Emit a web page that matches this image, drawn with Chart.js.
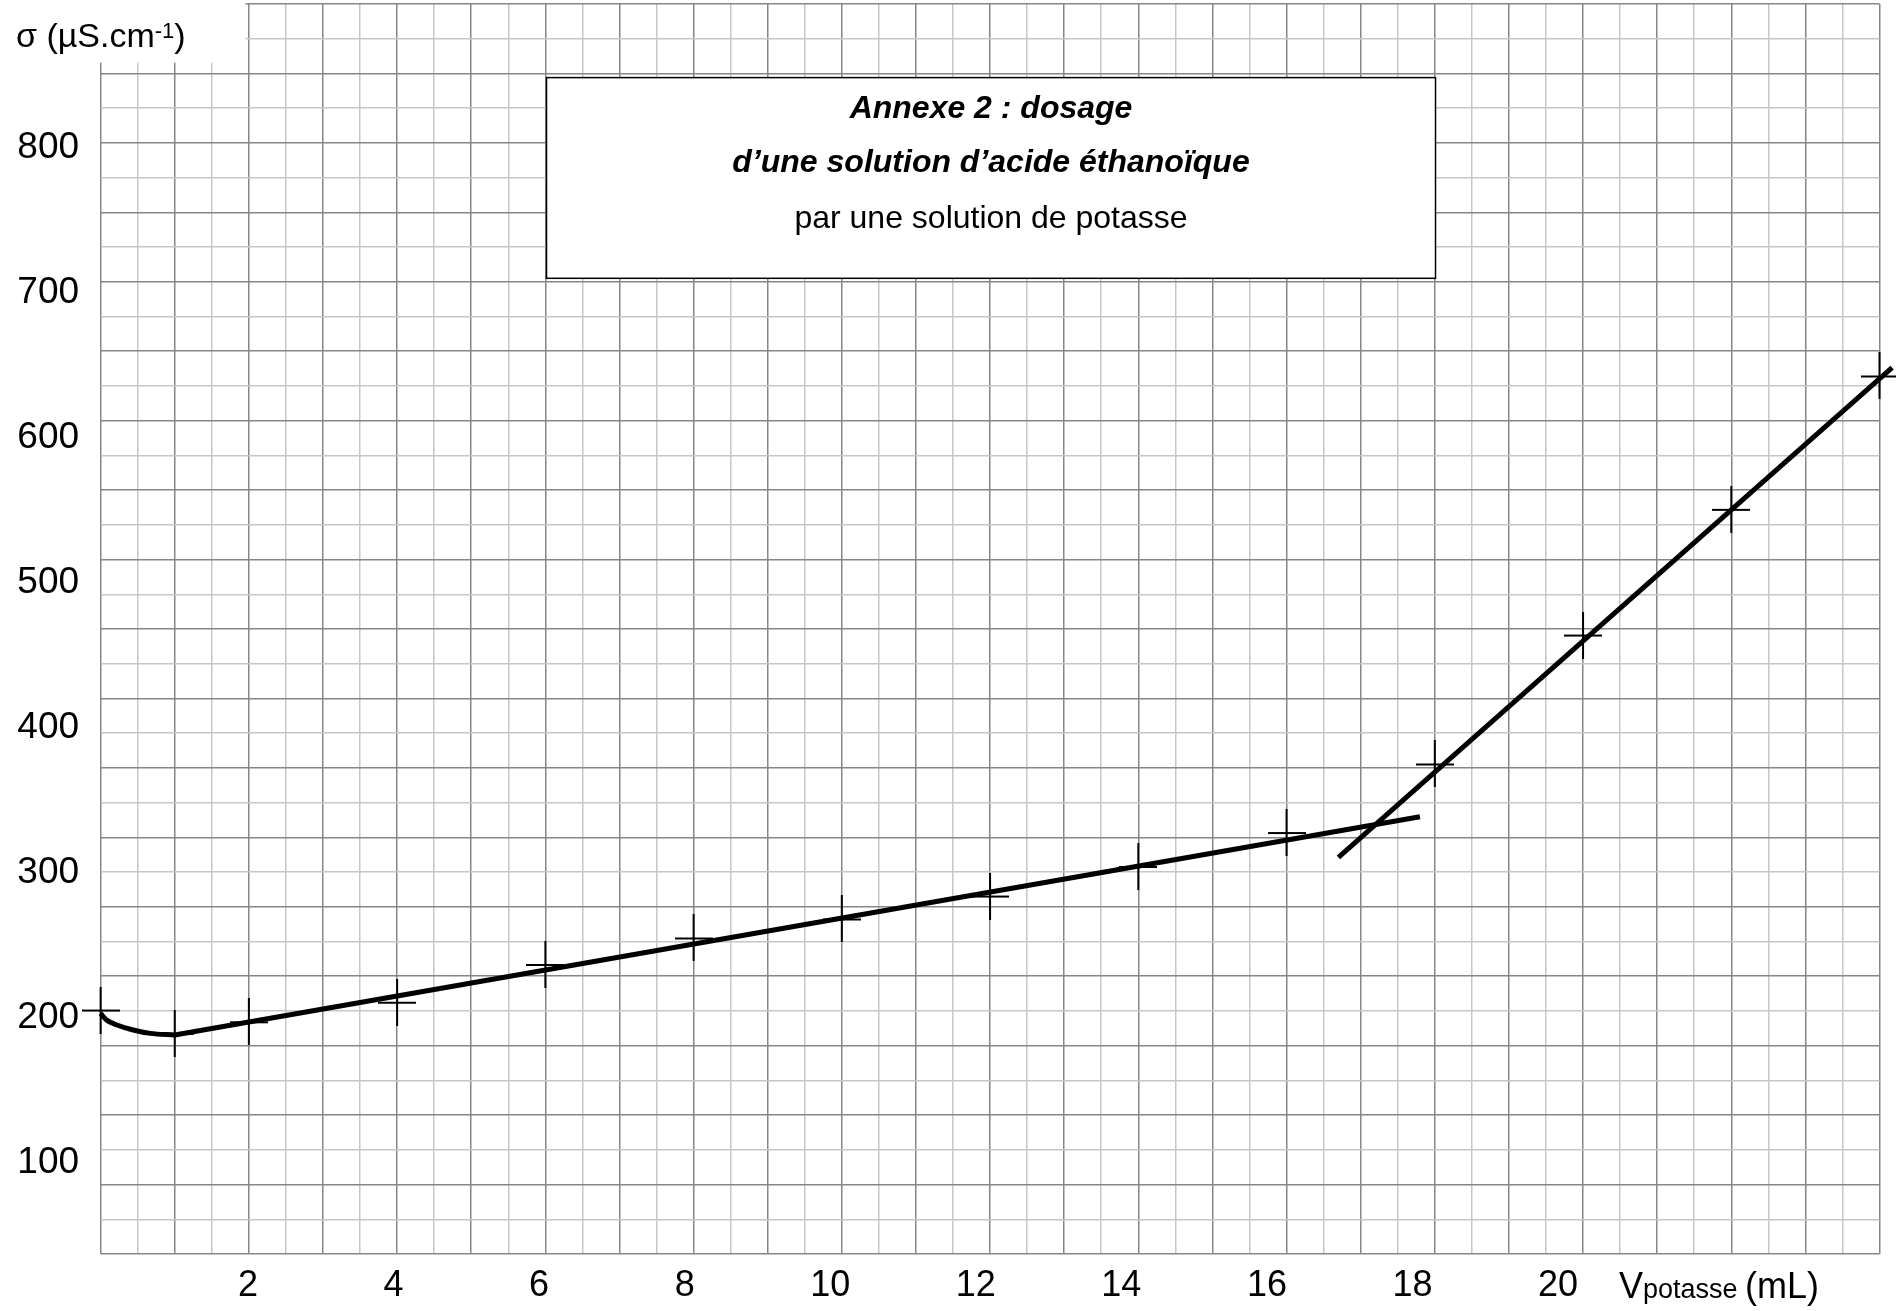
<!DOCTYPE html>
<html>
<head>
<meta charset="utf-8">
<title>Annexe 2 : dosage</title>
<script src="https://cdn.jsdelivr.net/npm/chart.js@4.4.1/dist/chart.umd.min.js"></script>
<style>
  html, body { margin: 0; padding: 0; background: #fff; }
  #wrap { width: 1896px; height: 1311px; }
</style>
</head>
<body>
<div id="wrap"><canvas id="chart" width="1896" height="1311"></canvas></div>
<script>
// mesures : volume de potasse versé (mL) et conductivité (µS.cm-1)
const volumes = [0, 1, 2, 4, 6, 8, 10, 12, 14, 16, 18, 20, 22, 24];
const sigmas = [205.5, 189.4, 197.4, 210.9, 236.9, 255.2, 268.3, 284.1, 304.5, 327.9, 375.2, 464.1, 550.8, 642.8];

// début de courbe tracé à la main
const curveV = [0, 0.08, 0.22, 0.44, 0.67, 1];
const curveS = [203.2, 198.6, 195.2, 191.7, 189.4, 188.3];

// les deux droites
const line1V = [1, 17.8];
const line1S = [188.3, 338.8];
const line2V = [16.7, 24.17];
const line2S = [310.8, 648.5];

const xTicks = [2, 4, 6, 8, 10, 12, 14, 16, 18, 20];
const yTicks = [100, 200, 300, 400, 500, 600, 700, 800];

const titleLines = ['Annexe 2 : dosage', 'd’une solution d’acide éthanoïque', 'par une solution de potasse'];

// papier millimétré : 0,5 mL en x, 36 carreaux en y
const gridX = Array.from({ length: 49 }, (_, i) => i / 2);
const gridY = Array.from({ length: 37 }, (_, i) => i);

const FONT = '"Liberation Sans", Arial, sans-serif';
const DARK = '#868686';
const LIGHT = '#c6c6c6';

const toPts = (xs, ys) => xs.map((x, i) => ({ x: x, y: ys[i] }));

// pas de marge automatique autour des axes
const fixSize = (w, h) => s => {
    if (w !== null) s.width = w;
    if (h !== null) s.height = h;
    s.paddingTop = 0; s.paddingBottom = 0;
    s.paddingLeft = 0; s.paddingRight = 0;
};

// croix de mesure (un peu plus haute que large)
const cross = document.createElement('canvas');
cross.width = 38;
cross.height = 47;
(function() {
    const c = cross.getContext('2d');
    c.strokeStyle = '#000';
    c.lineWidth = 2;
    c.beginPath();
    c.moveTo(0, 24); c.lineTo(38, 24);
    c.moveTo(19, 0); c.lineTo(19, 47);
    c.stroke();
})();

const paper = {
    id: 'paper',
    beforeDatasetsDraw(chart) {
        const { ctx } = chart;
        const x = chart.scales.x, y2 = chart.scales.y2;
        ctx.save();
        // coin en haut à gauche sans quadrillage
        ctx.fillStyle = '#fff';
        const left = x.getPixelForValue(0) - 3;
        ctx.fillRect(left, 0, x.getPixelForValue(1.955) - left, y2.getPixelForValue(34.31));

        // cadre du titre
        const bx0 = x.getPixelForValue(6.016), bx1 = x.getPixelForValue(18.01);
        const by0 = y2.getPixelForValue(33.88), by1 = y2.getPixelForValue(28.1);
        ctx.fillRect(bx0, by0, bx1 - bx0, by1 - by0);
        ctx.strokeStyle = '#000';
        ctx.lineWidth = 1.5;
        ctx.strokeRect(bx0, by0, bx1 - bx0, by1 - by0);

        ctx.fillStyle = '#000';
        ctx.textAlign = 'center';
        ctx.textBaseline = 'alphabetic';
        const cx = (bx0 + bx1) / 2;
        ctx.font = 'italic bold 32px ' + FONT;
        ctx.fillText(titleLines[0], cx, by0 + 40);
        ctx.fillText(titleLines[1], cx, by0 + 94);
        ctx.font = '32px ' + FONT;
        ctx.fillText(titleLines[2], cx, by0 + 150.6);
        ctx.restore();
    },
    afterDraw(chart) {
        const { ctx } = chart;
        ctx.save();
        ctx.fillStyle = '#000';
        ctx.textAlign = 'left';
        ctx.textBaseline = 'alphabetic';

        // titre de l'axe vertical
        let px = 16;
        ctx.font = '34px ' + FONT;
        ctx.fillText('σ (µS.cm', px, 46.5);
        px += ctx.measureText('σ (µS.cm').width;
        ctx.font = '22px ' + FONT;
        ctx.fillText('-1', px, 37.5);
        px += ctx.measureText('-1').width;
        ctx.font = '34px ' + FONT;
        ctx.fillText(')', px, 46.5);

        // titre de l'axe horizontal
        px = 1619;
        ctx.font = '36px ' + FONT;
        ctx.fillText('V', px, 1298.3);
        px += ctx.measureText('V').width;
        ctx.font = '27px ' + FONT;
        ctx.fillText('potasse ', px, 1298.3);
        px += ctx.measureText('potasse ').width;
        ctx.font = '36px ' + FONT;
        ctx.fillText('(mL)', px, 1298.3);
        ctx.restore();
    }
};

Chart.defaults.font.family = FONT;
Chart.defaults.color = '#000';

new Chart(document.getElementById('chart'), {
    type: 'scatter',
    data: {
        datasets: [
            {
                label: 'mesures',
                data: toPts(volumes, sigmas),
                pointStyle: cross,
                pointRadius: 20,
                pointHoverRadius: 20,
                showLine: false,
                clip: false
            },
            {
                label: 'courbe',
                data: toPts(curveV, curveS),
                showLine: true,
                borderColor: '#000',
                borderWidth: 5,
                pointRadius: 0,
                pointHoverRadius: 0,
                cubicInterpolationMode: 'monotone',
                clip: false
            },
            {
                label: 'droite 1',
                data: toPts(line1V, line1S),
                showLine: true,
                borderColor: '#000',
                borderWidth: 5,
                pointRadius: 0,
                pointHoverRadius: 0,
                clip: false
            },
            {
                label: 'droite 2',
                data: toPts(line2V, line2S),
                showLine: true,
                borderColor: '#000',
                borderWidth: 5,
                pointRadius: 0,
                pointHoverRadius: 0,
                clip: false
            }
        ]
    },
    options: {
        responsive: false,
        animation: false,
        devicePixelRatio: 1,
        events: [],
        layout: { autoPadding: false, padding: { top: 4, right: 16.5, left: 0, bottom: 0 } },
        plugins: { legend: { display: false }, tooltip: { enabled: false } },
        scales: {
            x: {
                type: 'linear', position: 'bottom', min: 0, max: 24,
                afterBuildTicks: s => { s.ticks = gridX.map(v => ({ value: v })); },
                ticks: { display: false },
                grid: { color: c => Number.isInteger(c.tick.value) ? DARK : LIGHT, lineWidth: 1.5, drawTicks: false },
                border: { display: false },
                afterFit: fixSize(null, 0)
            },
            xl: {
                type: 'linear', position: 'bottom', min: -0.025, max: 24.417,
                afterBuildTicks: s => { s.ticks = xTicks.map(v => ({ value: v })); },
                ticks: { autoSkip: false, maxRotation: 0, padding: 10, font: { size: 36 }, color: '#000' },
                grid: { display: false, drawTicks: false },
                border: { display: false },
                afterFit: fixSize(null, 57)
            },
            y: {
                type: 'linear', position: 'left', min: 37.24, max: 899.31,
                afterBuildTicks: s => { s.ticks = yTicks.map(v => ({ value: v })); },
                ticks: { autoSkip: false, padding: 21.5, font: { size: 37 }, color: '#000' },
                grid: { display: false, drawTicks: false },
                border: { display: false },
                afterFit: fixSize(100.6, null)
            },
            y2: {
                type: 'linear', position: 'left', min: 0, max: 36,
                afterBuildTicks: s => { s.ticks = gridY.map(v => ({ value: v })); },
                ticks: { display: false },
                grid: { color: c => c.tick.value % 2 === 0 ? DARK : LIGHT, lineWidth: 1.5, drawTicks: false },
                border: { display: false },
                afterFit: fixSize(0, null)
            }
        }
    },
    plugins: [paper]
});
</script>
</body>
</html>
